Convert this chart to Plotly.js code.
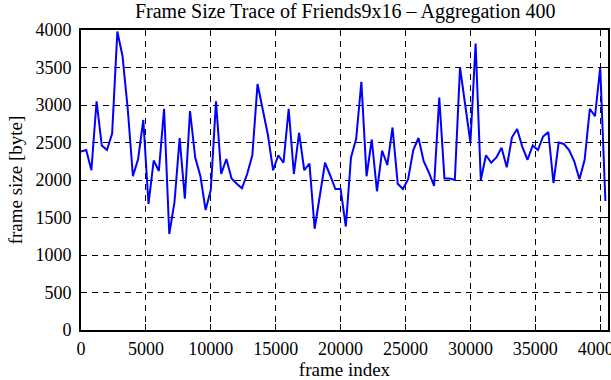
<!DOCTYPE html>
<html>
<head>
<meta charset="utf-8">
<script src="https://cdn.plot.ly/plotly-3.0.1.min.js"></script>
<style>html,body{margin:0;padding:0;background:#fff;}#chart{width:611px;height:380px;}</style>
</head>
<body>
<div id="chart"></div>
<script>
const aggregation = 400;
const frameSizes = [
  2380, 2400, 2130, 3050, 2460, 2400, 2620, 3980, 3650, 2950,
  2050, 2280, 2800, 1680, 2260, 2120, 2950, 1280, 1700, 2560,
  1750, 2920, 2300, 2050, 1600, 1870, 3050, 2080, 2280, 2020,
  1950, 1890, 2080, 2330, 3280, 2950, 2600, 2130, 2330, 2230,
  2950, 2080, 2630, 2130, 2220, 1350, 1820, 2230, 2060, 1880,
  1880, 1380, 2300, 2550, 3310, 2050, 2540, 1850, 2390, 2200,
  2700, 1950, 1880, 2010, 2400, 2560, 2250, 2100, 1920, 3100,
  2020, 2020, 2000, 3500, 3000, 2500, 3820, 2000, 2330, 2230,
  2300, 2430, 2170, 2570, 2680, 2440, 2270, 2460, 2400, 2580,
  2640, 1960, 2500, 2480, 2400, 2250, 2010, 2270, 2950, 2850,
  3500, 1720
];
const frameIndex = frameSizes.map((_, i) => i * aggregation);
const xTicks = [0, 5000, 10000, 15000, 20000, 25000, 30000, 35000, 40000];
const yTicks = [0, 500, 1000, 1500, 2000, 2500, 3000, 3500, 4000];

const fam = 'Liberation Serif, Times New Roman, serif';
const tickFont = {family: fam, size: 18, color: '#000'};
const axisTitleFont = {family: fam, size: 19, color: '#000'};
const titleFont = {family: fam, size: 20, color: '#000'};

const axisCommon = {
  showline: true, linecolor: '#000', linewidth: 2, mirror: 'ticks',
  ticks: 'inside', ticklen: 6, tickwidth: 1, tickcolor: '#000',
  showgrid: true, gridcolor: '#000', gridwidth: 1, griddash: '6px,5px',
  zeroline: false, tickfont: tickFont, ticklabeloverflow: 'allow'
};

Plotly.newPlot('chart', [{
  x: frameIndex, y: frameSizes, type: 'scatter', mode: 'lines',
  line: {color: '#0000ff', width: 2}, showlegend: false
}], {
  width: 611, height: 380,
  margin: {l: 81, r: 3, t: 30, b: 50},
  paper_bgcolor: '#fff', plot_bgcolor: '#fff',
  font: tickFont,
  title: {text: 'Frame Size Trace of Friends9x16 \u2013 Aggregation 400', font: titleFont, x: 0.565, xanchor: 'center', y: 0.99, yanchor: 'top'},
  xaxis: Object.assign({}, axisCommon, {
    range: [0, 40600], tickvals: xTicks, ticktext: xTicks.map(String),
    ticklabelstandoff: 1,
    title: {text: 'frame index', font: axisTitleFont, standoff: 3}
  }),
  yaxis: Object.assign({}, axisCommon, {
    range: [0, 4000], tickvals: yTicks, ticktext: yTicks.map(String),
    ticklabelstandoff: 4,
    title: {text: 'frame size [byte]', font: axisTitleFont, standoff: 8}
  })
}, {displayModeBar: false, staticPlot: true});
</script>
</body>
</html>
